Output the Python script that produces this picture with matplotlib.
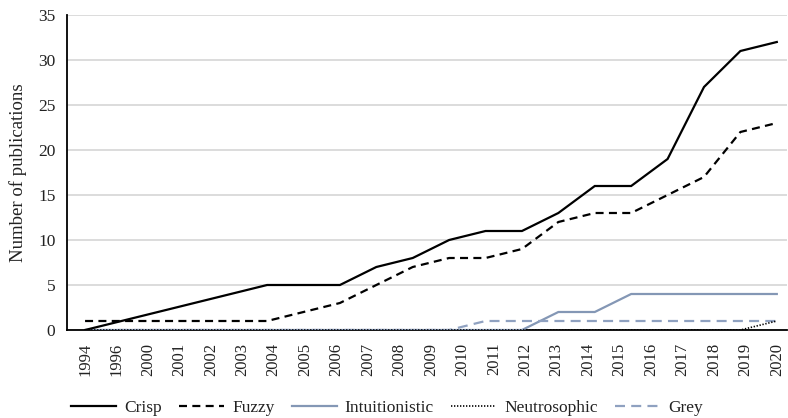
import numpy as np
import matplotlib
matplotlib.use("Agg")
import matplotlib.pyplot as plt

plt.rcParams['font.family'] = ['Liberation Serif', 'DejaVu Serif']

year_labels = ["1994", "1996", "2000", "2001", "2002", "2003", "2004", "2005",
               "2006", "2007", "2008", "2009", "2010", "2011", "2012", "2013",
               "2014", "2015", "2016", "2017", "2018", "2019", "2020"]

crisp = [0, 1, 2, 3, 4, 5, 5, 5, 7, 8, 10, 11, 11, 13, 16, 16, 19, 27, 31, 32]
fuzzy = [1, 1, 1, 1, 1, 1, 2, 3, 5, 7, 8, 8, 9, 12, 13, 13, 15, 17, 22, 23]
intuitionistic = [0, 0, 0, 0, 0, 0, 0, 0, 0, 0, 0, 0, 0, 2, 2, 4, 4, 4, 4, 4]
neutrosophic = [0, 0, 0, 0, 0, 0, 0, 0, 0, 0, 0, 0, 0, 0, 0, 0, 0, 0, 0, 1]
grey = [0, 0, 0, 0, 0, 0, 0, 0, 0, 0, 0, 1, 1, 1, 1, 1, 1, 1, 1, 1]

fig = plt.figure(figsize=(7.88, 4.18), dpi=100)
ax = fig.add_axes([66.5 / 788, (418 - 330) / 418, (787 - 66.5) / 788, (330 - 15) / 418])

x = np.arange(len(crisp))
blue = '#8497b5'
ax.plot(x, crisp, color='black', lw=1.6, label='Crisp', solid_joinstyle='miter', zorder=5)
ax.plot(x, fuzzy, color='black', lw=1.6, dashes=(3.6, 2.4), label='Fuzzy', zorder=5)
ax.plot(x, intuitionistic, color=blue, lw=1.6, label='Intuitionistic', zorder=4)
ax.plot(x, neutrosophic, color='black', lw=1.2, dashes=(0.8, 1.0), label='Neutrosophic', zorder=6)
ax.plot(x, grey, color='#8fa1c0', lw=1.6, dashes=(4.5, 2.8), label='Grey', zorder=4)

ax.set_xlim(-0.51, len(crisp) - 1 + 0.28)
ax.set_ylim(0, 35)
ax.set_yticks(np.arange(0, 36, 5))
ax.set_xticks(np.linspace(0, len(crisp) - 1, len(year_labels)))
ax.set_xticklabels(year_labels, rotation=90)

ax.grid(axis='y', color='#d9d9d9', lw=1.3)
ax.set_axisbelow(True)
for s in ['top', 'right']:
    ax.spines[s].set_visible(False)
for s in ['left', 'bottom']:
    ax.spines[s].set_color('black')
    ax.spines[s].set_linewidth(1.3)
ax.tick_params(axis='both', length=0, labelsize=12.5, colors='#222222')
ax.tick_params(axis='y', pad=8)
ax.tick_params(axis='x', pad=9, labelsize=12)
ax.set_ylabel('Number of publications', fontsize=13.5, color='#222222')
ax.yaxis.set_label_coords(-(66.5 - 27) / (787 - 66.5), 0.5)

leg = fig.legend(loc='center', bbox_to_anchor=(387 / 788, (418 - 408) / 418), ncol=5,
                 frameon=False, fontsize=12.5, handlelength=2.6, handletextpad=0.45,
                 columnspacing=1.0, labelcolor='#222222')

fig.savefig('out.png', dpi=100)
